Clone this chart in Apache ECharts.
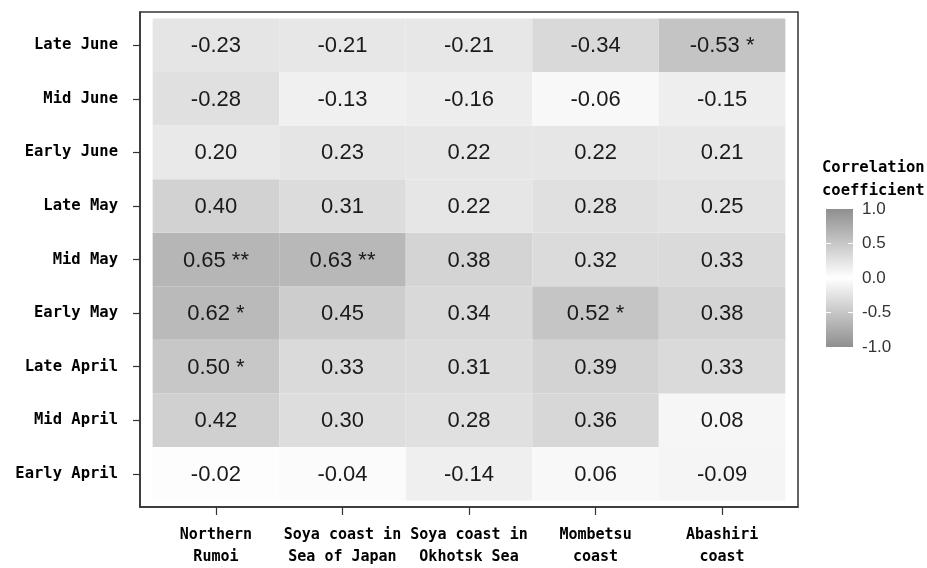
<!DOCTYPE html>
<html>
<head>
<meta charset="utf-8">
<script src="https://cdn.jsdelivr.net/npm/echarts@6/dist/echarts.min.js"></script>
<style>html,body{margin:0;padding:0;background:#fff;}#c{width:927px;height:568px;}</style>
</head>
<body>
<div id="c"></div>
<script>
// Rows listed bottom -> top
var periods = ['Early April','Mid April','Late April','Early May','Mid May','Late May','Early June','Mid June','Late June'];
var regions = ['Northern\nRumoi','Soya coast in\nSea of Japan','Soya coast in\nOkhotsk Sea','Mombetsu\ncoast','Abashiri\ncoast'];
// values per region, bottom (Early April) -> top (Late June)
var northernRumoi = [-0.02, 0.42, 0.50, 0.62, 0.65, 0.40, 0.20, -0.28, -0.23];
var soyaJapan     = [-0.04, 0.30, 0.33, 0.45, 0.63, 0.31, 0.23, -0.13, -0.21];
var soyaOkhotsk   = [-0.14, 0.28, 0.31, 0.34, 0.38, 0.22, 0.22, -0.16, -0.21];
var mombetsu      = [ 0.06, 0.36, 0.39, 0.52, 0.32, 0.28, 0.22, -0.06, -0.34];
var abashiri      = [-0.09, 0.08, 0.33, 0.38, 0.33, 0.25, 0.21, -0.15, -0.53];
// significance marks, same order
var sigRumoi    = ['', '', '*', '*', '**', '', '', '', ''];
var sigJapan    = ['', '', '', '', '**', '', '', '', ''];
var sigOkhotsk  = ['', '', '', '', '', '', '', '', ''];
var sigMombetsu = ['', '', '', '*', '', '', '', '', ''];
var sigAbashiri = ['', '', '', '', '', '', '', '', '*'];
var legendTicks = [-1, -0.5, 0, 0.5, 1];
var legendInnerTicks = [-0.5, 0, 0.5];

var columns = [northernRumoi, soyaJapan, soyaOkhotsk, mombetsu, abashiri];
var sigs = [sigRumoi, sigJapan, sigOkhotsk, sigMombetsu, sigAbashiri];
var data = [];
columns.forEach(function (col, xi) {
  col.forEach(function (v, yi) {
    data.push([xi, yi, v, sigs[xi][yi]]);
  });
});
var xIdx = regions.map(function (_, i) { return i; });
var yIdx = periods.map(function (_, i) { return i; });

var greyEnd = '#8f8f8f';
var labelFont = '"DejaVu Sans Mono", "Liberation Mono", monospace';

var chart = echarts.init(document.getElementById('c'), null, {renderer: 'canvas'});
chart.setOption({
  animation: false,
  backgroundColor: '#ffffff',
  title: {
    text: 'Correlation\ncoefficient',
    left: 817, top: 151,
    textStyle: {fontFamily: labelFont, fontWeight: 'bold', fontSize: 15.5, lineHeight: 23, color: '#000'}
  },
  grid: [
    {left: 140, top: 12, width: 658, height: 495, show: true, borderColor: '#333', borderWidth: 1.5, backgroundColor: '#fff', outerBoundsMode: 'none', containLabel: false},
    {left: 826, top: 209, width: 27, height: 138, outerBoundsMode: 'none', containLabel: false}
  ],
  visualMap: {
    show: false, type: 'continuous', min: -1, max: 1, dimension: 2, seriesIndex: 0,
    inRange: {color: [greyEnd, '#ffffff', greyEnd]}
  },
  xAxis: [
    {
      type: 'value', gridIndex: 0, min: -0.6, max: 4.6, position: 'bottom',
      splitLine: {show: false},
      axisLine: {show: true, onZero: false, lineStyle: {color: '#333', width: 1.5}},
      axisTick: {show: true, customValues: xIdx, length: 8, lineStyle: {color: '#333', width: 1.2}},
      axisLabel: {customValues: xIdx, margin: 17, lineHeight: 22, fontFamily: labelFont, fontWeight: 'bold', fontSize: 15, color: '#000',
        formatter: function (v) { return regions[Math.round(v)]; }}
    },
    {type: 'value', gridIndex: 1, min: 0, max: 1, show: false}
  ],
  yAxis: [
    {
      type: 'value', gridIndex: 0, min: -0.62, max: 8.62, position: 'left',
      splitLine: {show: false},
      axisLine: {show: true, onZero: false, lineStyle: {color: '#333', width: 1.5}},
      axisTick: {show: true, customValues: yIdx, length: 7, lineStyle: {color: '#333', width: 1.2}},
      axisLabel: {customValues: yIdx, margin: 22, fontFamily: labelFont, fontWeight: 'bold', fontSize: 15.5, color: '#000',
        formatter: function (v) { return periods[Math.round(v)]; }}
    },
    {
      type: 'value', gridIndex: 1, min: -1, max: 1, interval: 0.5, position: 'right', z: 5,
      splitLine: {show: false},
      axisLine: {show: true, onZero: false, lineStyle: {color: 'rgba(0,0,0,0)', width: 0}},
      axisTick: {show: true, inside: true, customValues: legendInnerTicks, length: 5, lineStyle: {color: '#fff', width: 1}},
      axisLabel: {customValues: legendTicks, margin: 9, fontFamily: '"Liberation Sans", Arial, sans-serif', fontSize: 17, color: '#333',
        formatter: function (v) { return v.toFixed(1); }}
    },
    {
      type: 'value', gridIndex: 1, min: -1, max: 1, interval: 0.5, position: 'left', z: 5,
      splitLine: {show: false},
      axisLine: {show: true, onZero: false, lineStyle: {color: 'rgba(0,0,0,0)', width: 0}},
      axisLabel: {show: false},
      axisTick: {show: true, inside: true, customValues: legendInnerTicks, length: 5, lineStyle: {color: '#fff', width: 1}}
    }
  ],
  series: [
    {
      type: 'custom', xAxisIndex: 0, yAxisIndex: 0, z: 2,
      data: data,
      encode: {x: 0, y: 1},
      renderItem: function (params, api) {
        var x = api.value(0), y = api.value(1), v = api.value(2);
        var star = data[params.dataIndex][3];
        var p0 = api.coord([x - 0.5, y + 0.5]);
        var p1 = api.coord([x + 0.5, y - 0.5]);
        var c = api.coord([x, y]);
        return {
          type: 'group',
          children: [
            {type: 'rect', shape: {x: p0[0], y: p0[1], width: p1[0] - p0[0], height: p1[1] - p0[1]},
              style: {fill: api.visual('color')}},
            {type: 'text', x: c[0], y: c[1] + 1,
              style: {text: v.toFixed(2) + (star ? ' ' + star : ''), align: 'center', verticalAlign: 'middle',
                font: '22px "Liberation Sans", Arial, sans-serif', fill: '#1a1a1a'}}
          ]
        };
      }
    },
    {
      type: 'custom', xAxisIndex: 1, yAxisIndex: 1, z: 1,
      data: [[0, legendTicks[legendTicks.length - 1], legendTicks[0]]],
      renderItem: function (params, api) {
        var top = api.coord([0, api.value(1)]);
        var bot = api.coord([1, api.value(2)]);
        return {
          type: 'rect',
          shape: {x: top[0], y: top[1], width: bot[0] - top[0], height: bot[1] - top[1]},
          style: {fill: new echarts.graphic.LinearGradient(0, 0, 0, 1, [
            {offset: 0, color: greyEnd}, {offset: 0.5, color: '#ffffff'}, {offset: 1, color: greyEnd}
          ])}
        };
      }
    }
  ]
});
</script>
</body>
</html>
